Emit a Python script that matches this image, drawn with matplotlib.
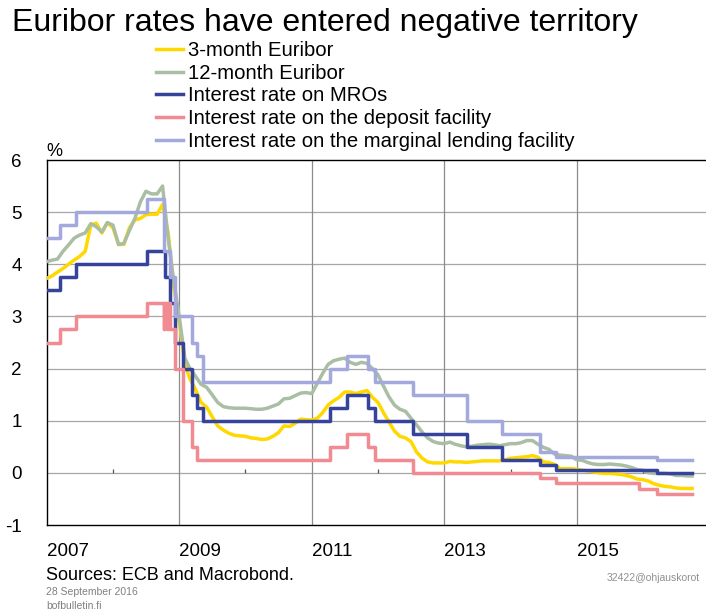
import datetime as dt
import pandas as pd
import matplotlib.pyplot as plt

plt.rcParams['font.family'] = ['Liberation Sans', 'DejaVu Sans']
plt.rcParams['axes.unicode_minus'] = False

# --- ECB policy rates: change dates and new levels (%) ---
mro_dates = ['2007-01-01', '2007-03-14', '2007-06-13', '2008-07-09', '2008-10-15',
             '2008-11-12', '2008-12-10', '2009-01-21', '2009-03-11', '2009-04-08',
             '2009-05-13', '2011-04-13', '2011-07-13', '2011-11-09', '2011-12-14',
             '2012-07-11', '2013-05-08', '2013-11-13', '2014-06-11', '2014-09-10',
             '2016-03-16', '2016-09-28']
mro_rate = [3.50, 3.75, 4.00, 4.25, 3.75, 3.25, 2.50, 2.00, 1.50, 1.25, 1.00, 1.25,
            1.50, 1.25, 1.00, 0.75, 0.50, 0.25, 0.15, 0.05, 0.00, 0.00]

dep_dates = ['2007-01-01', '2007-03-14', '2007-06-13', '2008-07-09', '2008-10-08',
             '2008-10-09', '2008-10-28', '2008-10-29', '2008-11-12', '2008-12-10',
             '2009-01-21', '2009-03-11', '2009-04-08', '2011-04-13', '2011-07-13',
             '2011-11-09', '2011-12-14', '2012-07-11', '2014-06-11', '2014-09-10',
             '2015-12-09', '2016-03-16', '2016-09-28']
dep_rate = [2.50, 2.75, 3.00, 3.25, 2.75, 3.25, 2.75, 3.25, 2.75, 2.00, 1.00, 0.50,
            0.25, 0.50, 0.75, 0.50, 0.25, 0.00, -0.10, -0.20, -0.30, -0.40, -0.40]

mlf_dates = ['2007-01-01', '2007-03-14', '2007-06-13', '2008-07-09', '2008-10-08',
             '2008-10-09', '2008-11-12', '2008-12-10', '2009-03-11', '2009-04-08',
             '2009-05-13', '2011-04-13', '2011-07-13', '2011-11-09', '2011-12-14',
             '2012-07-11', '2013-05-08', '2013-11-13', '2014-06-11', '2014-09-10',
             '2016-03-16', '2016-09-28']
mlf_rate = [4.50, 4.75, 5.00, 5.25, 4.75, 4.25, 3.75, 3.00, 2.50, 2.25, 1.75, 2.00,
            2.25, 2.00, 1.75, 1.50, 1.00, 0.75, 0.40, 0.30, 0.25, 0.25]

# --- Euribor, month-start readings (Jan 2007 .. Sep 2016) plus last day ---
eur_dates = list(pd.date_range('2007-01-01', '2016-09-01', freq='MS').strftime('%Y-%m-%d')) + ['2016-09-28']
eur3m = [3.73, 3.78, 3.85, 3.92, 4.00, 4.08, 4.15, 4.25, 4.75, 4.79, 4.60, 4.80,   # 2007
         4.70, 4.38, 4.38, 4.70, 4.85, 4.88, 4.95, 4.96, 4.96, 5.15, 4.60, 3.60,   # 2008
         2.90, 2.10, 1.80, 1.60, 1.35, 1.26, 1.08, 0.90, 0.82, 0.76, 0.72, 0.71,   # 2009
         0.70, 0.67, 0.66, 0.64, 0.65, 0.70, 0.77, 0.90, 0.89, 0.95, 1.03, 1.02,   # 2010
         1.01, 1.05, 1.15, 1.30, 1.38, 1.45, 1.55, 1.55, 1.52, 1.55, 1.58, 1.45,   # 2011
         1.35, 1.15, 0.98, 0.80, 0.70, 0.67, 0.60, 0.40, 0.28, 0.21, 0.19, 0.19,   # 2012
         0.19, 0.22, 0.21, 0.21, 0.20, 0.21, 0.22, 0.23, 0.23, 0.23, 0.23, 0.25,   # 2013
         0.28, 0.29, 0.30, 0.31, 0.33, 0.30, 0.21, 0.20, 0.16, 0.08, 0.08, 0.08,   # 2014
         0.07, 0.05, 0.04, 0.02, 0.00, -0.01, -0.01, -0.02, -0.03, -0.05, -0.08, -0.12,  # 2015
         -0.13, -0.16, -0.21, -0.24, -0.26, -0.27, -0.29, -0.30, -0.30,            # 2016
         -0.30]
eur12m = [4.05, 4.08, 4.10, 4.25, 4.37, 4.50, 4.56, 4.60, 4.78, 4.72, 4.62, 4.80,  # 2007
          4.75, 4.38, 4.40, 4.65, 4.88, 5.20, 5.40, 5.35, 5.35, 5.50, 4.50, 3.70,  # 2008
          3.00, 2.20, 2.00, 1.85, 1.70, 1.64, 1.50, 1.35, 1.27, 1.25, 1.24, 1.24,  # 2009
          1.24, 1.23, 1.22, 1.22, 1.24, 1.28, 1.32, 1.42, 1.43, 1.48, 1.53, 1.54,  # 2010
          1.52, 1.72, 1.90, 2.08, 2.15, 2.18, 2.20, 2.12, 2.08, 2.12, 2.10, 2.00,  # 2011
          1.88, 1.66, 1.46, 1.30, 1.22, 1.18, 1.05, 0.92, 0.78, 0.67, 0.60, 0.57,  # 2012
          0.56, 0.59, 0.55, 0.52, 0.50, 0.51, 0.53, 0.54, 0.55, 0.54, 0.52, 0.54,  # 2013
          0.56, 0.56, 0.58, 0.62, 0.62, 0.55, 0.49, 0.45, 0.36, 0.34, 0.33, 0.32,  # 2014
          0.25, 0.24, 0.20, 0.17, 0.16, 0.16, 0.17, 0.16, 0.15, 0.13, 0.10, 0.06,  # 2015
          0.05, 0.00, -0.01, -0.01, -0.01, -0.02, -0.05, -0.05, -0.06,              # 2016
          -0.06]

year_labels = ['2007', '2009', '2011', '2013', '2015']
minor_years = [2008, 2010, 2012, 2014, 2016]


def dec_year(s):
    d = dt.date.fromisoformat(s)
    start = dt.date(d.year, 1, 1)
    n = (dt.date(d.year + 1, 1, 1) - start).days
    return d.year + (d - start).days / n


def to_x(dates):
    return [dec_year(s) for s in dates]


fig = plt.figure(figsize=(7.06, 6.14), dpi=100)
ax = fig.add_axes([46.7 / 706, 1 - 525 / 614, 1 - 46.7 / 706, (525 - 160) / 614])

lw = 2.5
l1, = ax.plot(to_x(eur_dates), eur3m, color='#ffd800', lw=lw, label='3-month Euribor', zorder=3)
l2, = ax.plot(to_x(eur_dates), eur12m, color='#a9bea3', lw=lw, label='12-month Euribor', zorder=4)
l3, = ax.plot(to_x(mro_dates), mro_rate, color='#35439a', lw=lw, drawstyle='steps-post',
              label='Interest rate on MROs', zorder=5)
l4, = ax.plot(to_x(dep_dates), dep_rate, color='#f28a92', lw=lw, drawstyle='steps-post',
              label='Interest rate on the deposit facility', zorder=6)
l5, = ax.plot(to_x(mlf_dates), mlf_rate, color='#a3a8dd', lw=lw, drawstyle='steps-post',
              label='Interest rate on the marginal lending facility', zorder=7)

ax.set_xlim(2007.0, 2016.95)
ax.set_ylim(-1, 6)
ax.set_yticks(range(-1, 7))
ax.set_xticks([int(y) for y in year_labels])
ax.set_xticklabels(year_labels, ha='left')
ax.tick_params(axis='x', length=0, pad=13, labelsize=13.5)
ax.tick_params(axis='y', length=0, pad=18, labelsize=13.5)

for v in range(0, 6):
    ax.axhline(v, color='#a6a6a6', lw=0.9, zorder=1)
for y in year_labels[1:]:
    ax.axvline(int(y), color='#8c8c8c', lw=0.9, zorder=1)
ax.vlines(minor_years, 0, 0.07, color='#555555', lw=0.9, zorder=1)

ax.spines['right'].set_visible(False)
for side in ['left', 'bottom', 'top']:
    ax.spines[side].set_color('black')
    ax.spines[side].set_linewidth(1.0)

fig.text(46 / 706, 1 - 152 / 614, '%', fontsize=13, va='center', ha='left')

fig.text(12 / 706, 1 - 23 / 614, 'Euribor rates have entered negative territory',
         fontsize=23, va='center', ha='left')

fig.legend(handles=[l1, l2, l3, l4, l5], loc='upper left',
           bbox_to_anchor=(156 / 706, 1 - 41 / 614), frameon=False,
           fontsize=14.6, handlelength=1.35, handletextpad=0.22,
           labelspacing=0.18, borderpad=0, borderaxespad=0)

fig.text(46 / 706, 1 - 575 / 614, 'Sources: ECB and Macrobond.', fontsize=13, va='center', ha='left')
fig.text(46 / 706, 1 - 592 / 614, '28 September 2016', fontsize=7.5, color='#808080', va='center', ha='left')
fig.text(46 / 706, 1 - 606 / 614, 'bofbulletin.fi', fontsize=7.5, color='#808080', va='center', ha='left')
fig.text(700 / 706, 1 - 578 / 614, '32422@ohjauskorot', fontsize=7.5, color='#909090', va='center', ha='right')

fig.savefig('out.png', dpi=100)
